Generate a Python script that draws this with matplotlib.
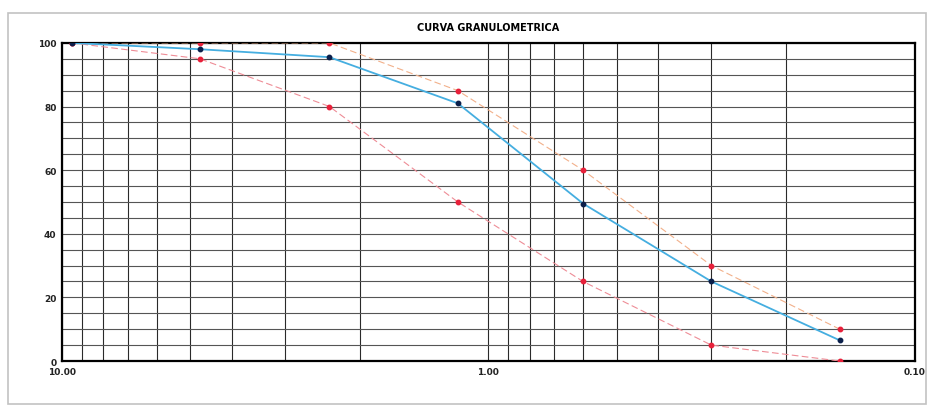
import numpy as np
import matplotlib.pyplot as plt
from matplotlib.ticker import FixedLocator, NullFormatter, FixedFormatter
from matplotlib.patches import Rectangle

# sieve openings (mm) and percent passing
sieve_mm = [9.5, 4.75, 2.36, 1.18, 0.6, 0.3, 0.15]
passing = [100, 98, 95.5, 81, 49.5, 25, 6.5]
upper_limit = [100, 100, 100, 85, 60, 30, 10]
lower_limit = [100, 95, 80, 50, 25, 5, 0]

title = "CURVA GRANULOMETRICA"
x_major = [10.0, 1.0, 0.1]
x_labels = ["10.00", "1.00", "0.10"]
y_ticks = [0, 20, 40, 60, 80, 100]

fig = plt.figure(figsize=(9.3, 4.1), dpi=100)
fig.patch.set_facecolor("white")

# light outer frame, like the spreadsheet chart box
fig.add_artist(Rectangle((0.009, 0.012), 0.987, 0.955, transform=fig.transFigure,
                         fill=False, edgecolor="#c2c2c2", linewidth=1.2))

ax = fig.add_axes([0.0667, 0.117, 0.917, 0.776])
ax.set_xscale("log")
ax.set_xlim(10, 0.1)
ax.set_ylim(0, 100)

# grid: every integer step in each decade, every 5 % vertically
minor_x = [m * 10.0 ** e for e in (-1, 0) for m in range(2, 10)]
ax.xaxis.set_major_locator(FixedLocator(x_major))
ax.xaxis.set_major_formatter(FixedFormatter(x_labels))
ax.xaxis.set_minor_locator(FixedLocator(minor_x))
ax.xaxis.set_minor_formatter(NullFormatter())
ax.yaxis.set_major_locator(FixedLocator(y_ticks))
ax.yaxis.set_minor_locator(FixedLocator(np.arange(0, 101, 5)))

ax.grid(which="both", axis="y", color="#555555", linewidth=0.8)
ax.grid(which="both", axis="x", color="#2a2a2a", linewidth=0.8)
ax.tick_params(which="both", length=0, labelsize=6.5, pad=4)
for lab in ax.get_xticklabels() + ax.get_yticklabels():
    lab.set_fontweight("bold")
    lab.set_color("#222222")
for s in ax.spines.values():
    s.set_linewidth(1.6)
    s.set_color("black")

ax.plot(sieve_mm, upper_limit, color="#f2b08a", linewidth=0.8, linestyle=(0, (6, 3)),
        marker="o", markersize=3.2, markerfacecolor="#e8203a", markeredgecolor="#e8203a", zorder=3)
ax.plot(sieve_mm, lower_limit, color="#ee8c96", linewidth=0.8, linestyle=(0, (6, 3)),
        marker="o", markersize=3.2, markerfacecolor="#e8203a", markeredgecolor="#e8203a", zorder=3)
ax.plot(sieve_mm, passing, color="#45aee0", linewidth=1.3,
        marker="o", markersize=3.2, markerfacecolor="#0b1f4a", markeredgecolor="#0b1f4a", zorder=4)

ax.set_title(title, fontsize=7, fontweight="bold", pad=9)

fig.savefig("out.png", dpi=100)
